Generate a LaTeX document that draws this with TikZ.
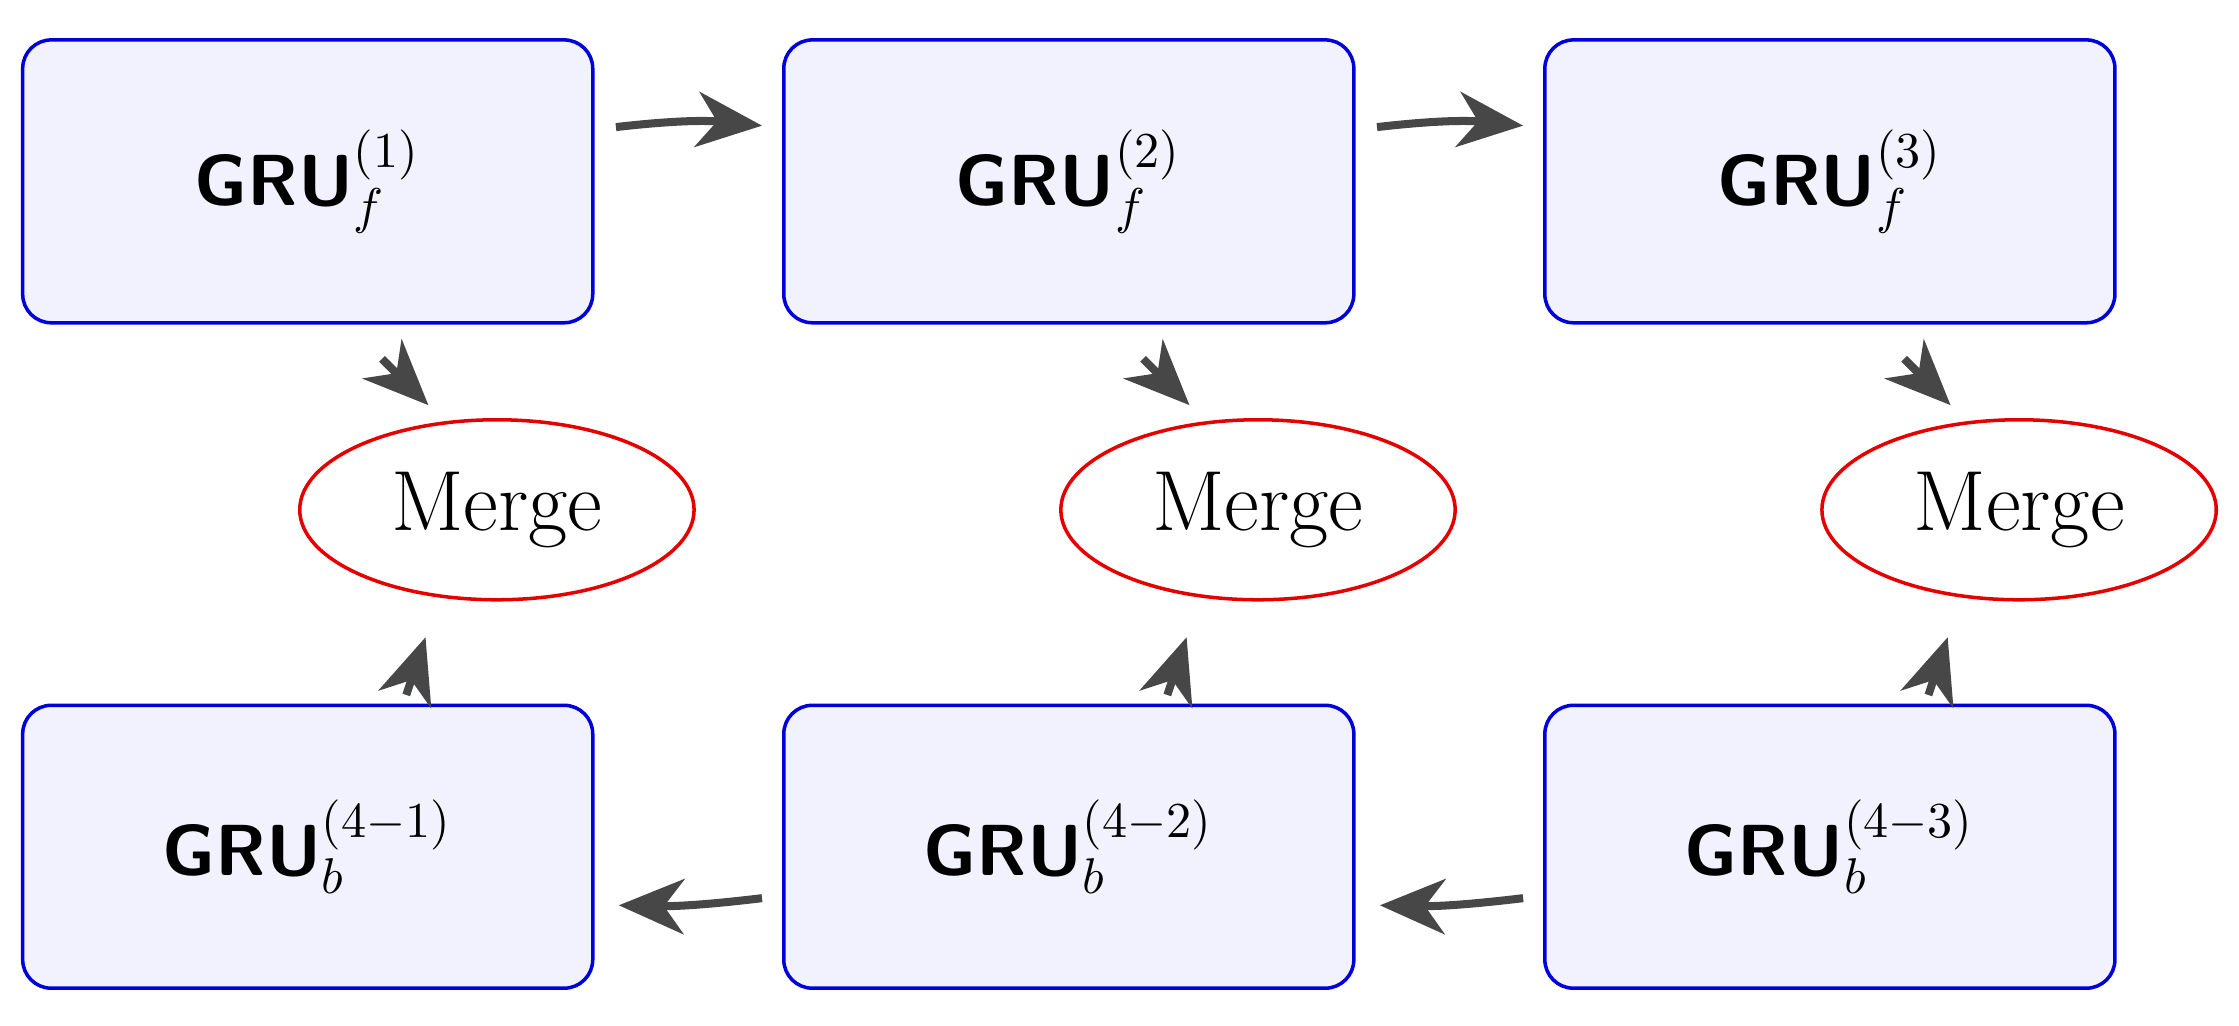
\documentclass[tikz,border=0pt]{standalone}
\usetikzlibrary{shapes.geometric,arrows.meta}
\begin{document}
\begin{tikzpicture}[x=0.01cm,y=-0.01cm,
  gru/.style={draw=blue!85!black,fill=blue!5,rounded corners=0.2cm,line width=0.7pt,minimum width=3.99cm,minimum height=1.98cm,inner sep=0pt,font=\Large},
  mrg/.style={draw=red!90!black,ellipse,line width=0.7pt,minimum width=2.76cm,minimum height=1.26cm,inner sep=0pt,font=\fontsize{17}{20}\selectfont},
  arr/.style={-{Stealth[length=13pt,width=11pt,inset=4pt]},line width=1.6pt,draw=black!72}]
\useasboundingbox (0,0) rectangle (1568,718);
\node[gru] (f1) at (215.5,127) {$\textsf{\textbf{GRU}}_f^{(1)}$};
\node[gru] (f2) at (748.5,127) {$\textsf{\textbf{GRU}}_f^{(2)}$};
\node[gru] (f3) at (1281.5,127) {$\textsf{\textbf{GRU}}_f^{(3)}$};
\node[gru] (b1) at (215.5,593) {$\textsf{\textbf{GRU}}_b^{(4-1)}$};
\node[gru] (b2) at (748.5,593) {$\textsf{\textbf{GRU}}_b^{(4-2)}$};
\node[gru] (b3) at (1281.5,593) {$\textsf{\textbf{GRU}}_b^{(4-3)}$};
\node[mrg] (m1) at (348,357) {Merge};
\node[mrg] (m2) at (881,357) {Merge};
\node[mrg] (m3) at (1414,357) {Merge};
\draw[arr] ([shift={(15,-38)}]f1.east) to[bend left=6] ([shift={(-14,-39)}]f2.west);
\draw[arr] ([shift={(15,-38)}]f2.east) to[bend left=6] ([shift={(-14,-39)}]f3.west);
\draw[arr] ([shift={(52,24)}]f1.south) -- ([shift={(-48,-9)}]m1.north);
\draw[arr] ([shift={(52,24)}]f2.south) -- ([shift={(-48,-9)}]m2.north);
\draw[arr] ([shift={(52,24)}]f3.south) -- ([shift={(-48,-9)}]m3.north);
\draw[arr] ([shift={(69,-6)}]b1.north) -- ([shift={(-50,25)}]m1.south);
\draw[arr] ([shift={(69,-6)}]b2.north) -- ([shift={(-50,25)}]m2.south);
\draw[arr] ([shift={(69,-6)}]b3.north) -- ([shift={(-50,25)}]m3.south);
\draw[arr] ([shift={(-14,36)}]b2.west) to[bend left=4] ([shift={(17,41)}]b1.east);
\draw[arr] ([shift={(-14,36)}]b3.west) to[bend left=4] ([shift={(17,41)}]b2.east);
\end{tikzpicture}
\end{document}
